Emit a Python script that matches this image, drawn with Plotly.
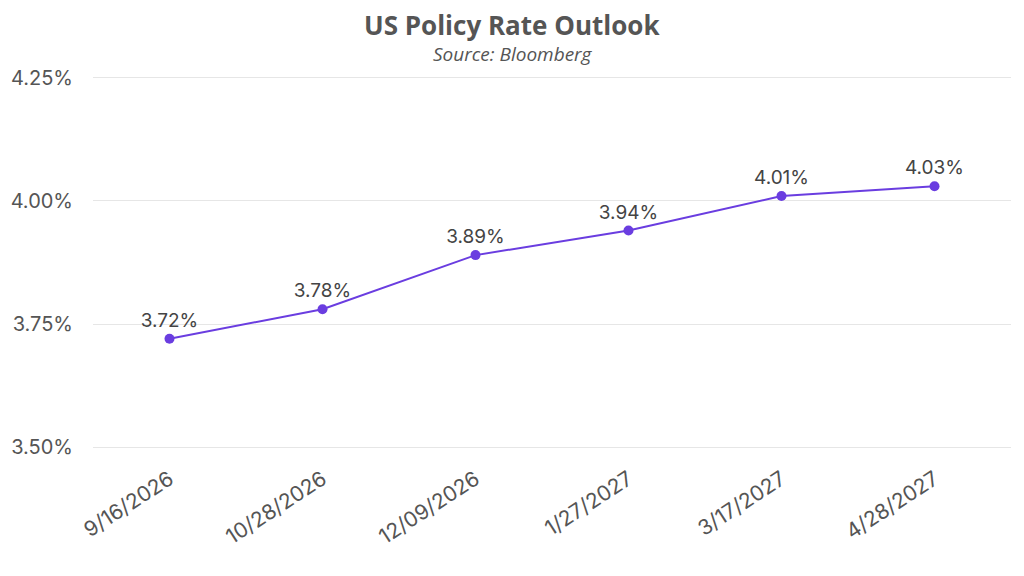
import plotly.graph_objects as go

dates = ["9/16/2026", "10/28/2026", "12/09/2026", "1/27/2027", "3/17/2027", "4/28/2027"]
rates = [3.72, 3.78, 3.89, 3.94, 4.01, 4.03]
rate_labels = ["3.72%", "3.78%", "3.89%", "3.94%", "4.01%", "4.03%"]
y_ticks = [3.50, 3.75, 4.00, 4.25]
y_tick_labels = ["3.50%", "3.75%", "4.00%", "4.25%"]

purple = "#6a3de0"
grey = "#555555"
font_main = "Inter"

# page body has an 8px margin, so the figure is sized to fit the 1024x576 window
W, H = 1008, 560
ML, MR, MT, MB = 85, 5, 65, 116
plot_w = W - ML - MR
plot_h = H - MT - MB


def paper_x(page_x):
    return (page_x - 8 - ML) / plot_w


def paper_y(page_y):
    return 1.0 - (page_y - 8 - MT) / plot_h


fig = go.Figure()
fig.add_trace(go.Scatter(
    x=dates, y=rates,
    mode="lines+markers+text",
    line=dict(color=purple, width=2),
    marker=dict(color=purple, size=10),
    text=rate_labels,
    textposition="top center",
    textfont=dict(family=font_main, size=19, color="#444444"),
    cliponaxis=False,
    hoverinfo="skip",
))

fig.update_layout(
    width=W, height=H,
    margin=dict(l=ML, r=MR, t=MT, b=MB),
    paper_bgcolor="white", plot_bgcolor="white",
    showlegend=False,
    xaxis=dict(
        type="category",
        range=[-0.5, len(dates) - 0.5],
        tickangle=-33,
        tickfont=dict(family=font_main, size=21, color=grey),
        showgrid=False, showline=False, zeroline=False,
        ticks="", ticklen=0, automargin=False, ticklabelstandoff=10,
    ),
    yaxis=dict(
        range=[3.49, 4.26],
        tickvals=y_ticks, ticktext=y_tick_labels,
        tickfont=dict(family=font_main, size=20, color=grey),
        showgrid=True, gridcolor="#e6e6e6", gridwidth=1,
        zeroline=False, showline=False,
        ticks="", ticklabelstandoff=19, automargin=False,
    ),
    annotations=[
        dict(text="<b>US Policy Rate Outlook</b>", xref="paper", yref="paper",
             x=paper_x(512), y=paper_y(25), xanchor="center", yanchor="middle",
             showarrow=False, font=dict(family="Open Sans", size=26, color=grey)),
        dict(text="<i>Source: Bloomberg</i>", xref="paper", yref="paper",
             x=paper_x(513), y=paper_y(54), xanchor="center", yanchor="middle",
             showarrow=False, font=dict(family="Open Sans", size=19, color=grey)),
    ],
)

fig.write_html("out.html")
